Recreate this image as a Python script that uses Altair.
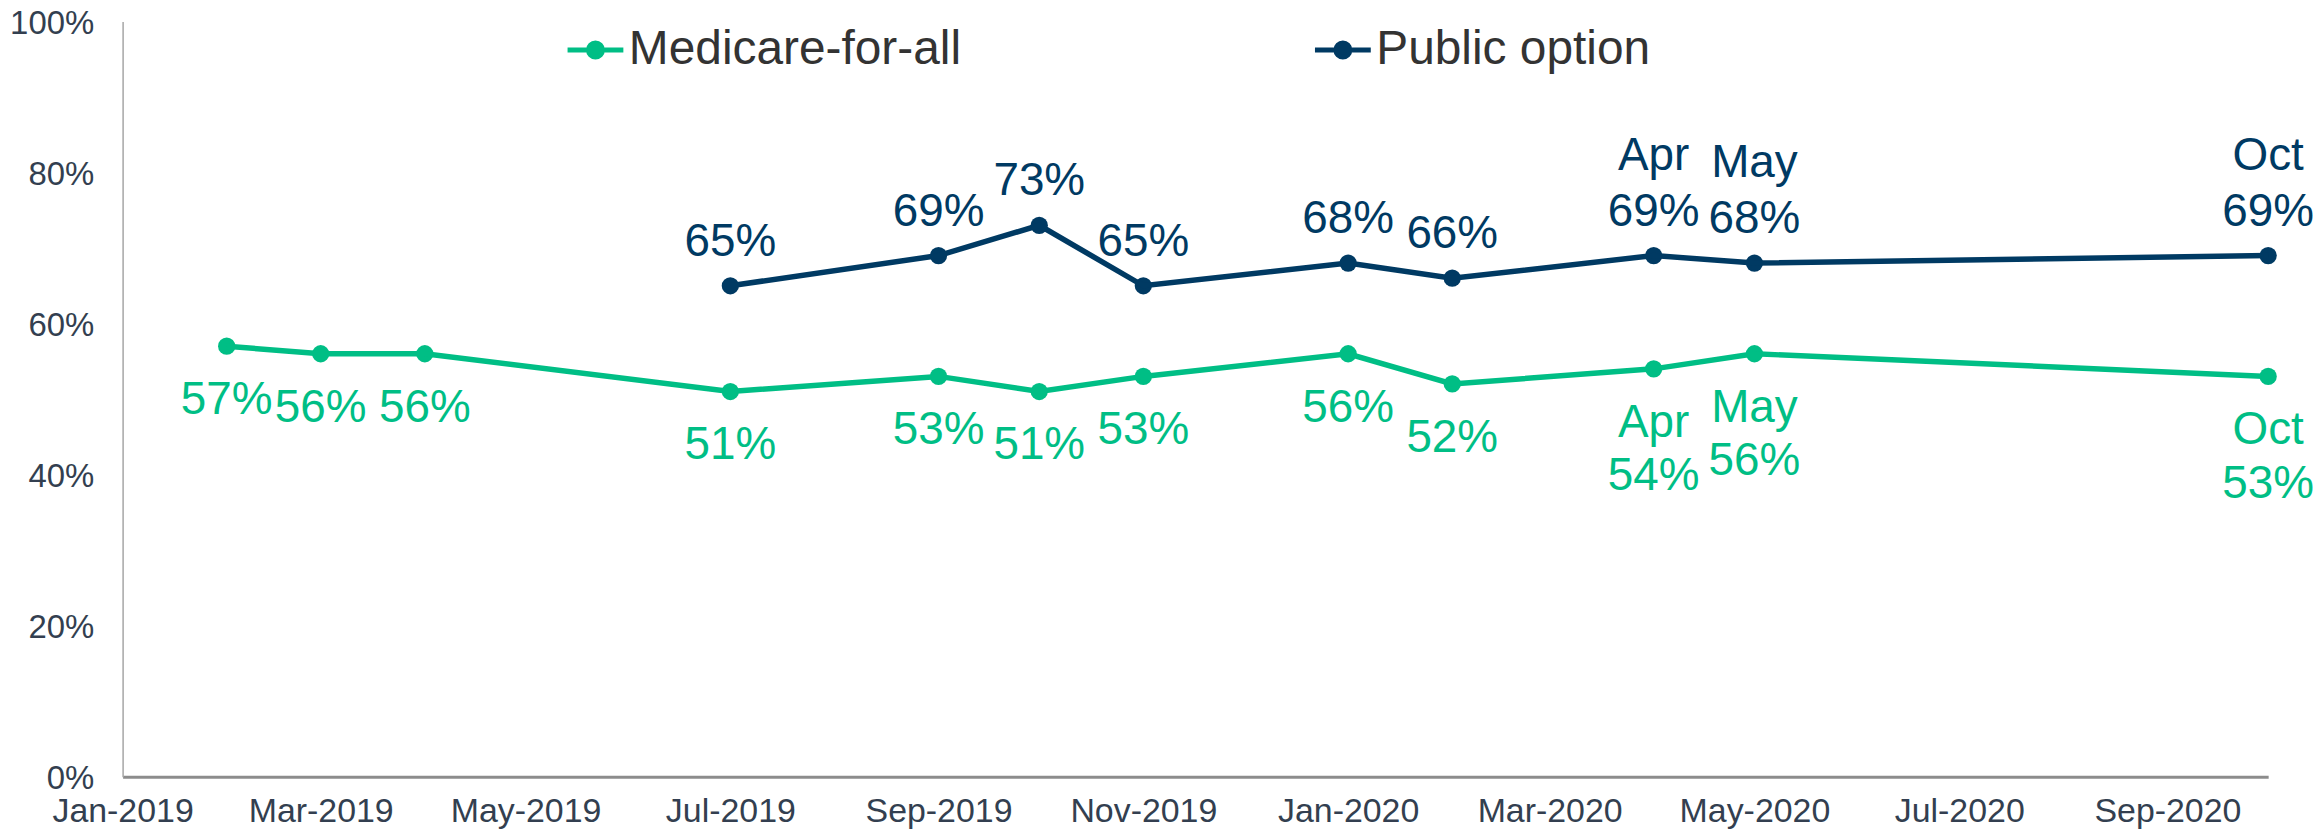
import altair as alt
import pandas as pd

# ---- data ----
series_names = ["Medicare-for-all", "Public option"]
series_colors = ["#00BE85", "#003A63"]

mfa_dates = ["2019-02-01", "2019-03-01", "2019-04-01", "2019-07-01", "2019-09-01",
             "2019-10-01", "2019-11-01", "2020-01-01", "2020-02-01", "2020-04-01",
             "2020-05-01", "2020-10-01"]
mfa_values = [57, 56, 56, 51, 53, 51, 53, 56, 52, 54, 56, 53]
mfa_month_tags = ["", "", "", "", "", "", "", "", "", "Apr", "May", "Oct"]

po_dates = ["2019-07-01", "2019-09-01", "2019-10-01", "2019-11-01", "2020-01-01",
            "2020-02-01", "2020-04-01", "2020-05-01", "2020-10-01"]
po_values = [65, 69, 73, 65, 68, 66, 69, 68, 69]
po_month_tags = ["", "", "", "", "", "", "Apr", "May", "Oct"]

y_ticks = [0, 0.2, 0.4, 0.6, 0.8, 1.0]
x_tick_months = [(2019, 1), (2019, 3), (2019, 5), (2019, 7), (2019, 9), (2019, 11),
                 (2020, 1), (2020, 3), (2020, 5), (2020, 7), (2020, 9)]


rows = []
for d, v, t in zip(mfa_dates, mfa_values, mfa_month_tags):
    rows.append({"series": series_names[0], "date": d, "value": v / 100,
                 "pct": f"{v}%", "tag": t,
                 "label": (t + "\n" if t else "") + f"{v}%"})
for d, v, t in zip(po_dates, po_values, po_month_tags):
    rows.append({"series": series_names[1], "date": d, "value": v / 100,
                 "pct": f"{v}%", "tag": t,
                 "label": (t + "\n" if t else "") + f"{v}%"})
df = pd.DataFrame(rows)

FONT = "Liberation Sans"
AXIS_TEXT = "#333F50"

color_scale = alt.Scale(domain=series_names, range=series_colors)

legend = alt.Legend(
    title=None,
    orient="none",
    legendX=444,
    legendY=-2,
    direction="horizontal",
    symbolType="M-1,0H1M0.25,0A0.25,0.25 0 1,1 -0.25,0A0.25,0.25 0 1,1 0.25,0Z",
    symbolSize=3136,
    symbolStrokeWidth=5,
    symbolOpacity=1,
    labelFontSize=48,
    labelFont=FONT,
    labelColor="#333333",
    labelOffset=3,
    labelLimit=1000,
    columnPadding=344,
    padding=0,
)

x_enc = alt.X(
    "date:T",
    scale=alt.Scale(type="utc",
                    domain=[alt.DateTime(year=2019, month=1, date=1, utc=True),
                            alt.DateTime(year=2020, month=10, date=1, utc=True)]),
    axis=alt.Axis(
        values=[alt.DateTime(year=y, month=m, date=1, utc=True) for y, m in x_tick_months],
        labelExpr="utcFormat(datum.value, '%b-%Y')",
        title=None, grid=False, ticks=False,
        labelFontSize=34, labelFont=FONT, labelColor=AXIS_TEXT, labelPadding=18,
        labelFlush=False, labelOverlap=False,
        domainColor="#8C8C8C", domainWidth=3,
    ),
)
y_enc = alt.Y(
    "value:Q",
    scale=alt.Scale(domain=[0, 1], nice=False),
    axis=alt.Axis(
        values=y_ticks, format=".0%", title=None, grid=False, ticks=False,
        labelFontSize=33, labelFont=FONT, labelColor=AXIS_TEXT, labelPadding=29,
        labelOffset=2, labelFlush=False, domainColor="#A6A6A6", domainWidth=1.5,
    ),
)

base = alt.Chart(df).encode(x=x_enc, y=y_enc)

points = base.mark_point(filled=True, size=300, opacity=1).encode(
    color=alt.Color("series:N", scale=color_scale, legend=legend)
)
lines = base.mark_line(strokeWidth=5.5).encode(
    color=alt.Color("series:N", scale=color_scale, legend=legend)
)

mfa_text = base.transform_filter(alt.datum.series == series_names[0]).mark_text(
    baseline="top", align="center", dy=32, fontSize=46, font=FONT,
    lineBreak="\n", lineHeight=54, color=series_colors[0]
).encode(text="label:N")

po_base = base.transform_filter(alt.datum.series == series_names[1])
po_text = po_base.mark_text(
    baseline="bottom", align="center", dy=-20, fontSize=46, font=FONT,
    color=series_colors[1]
).encode(text="pct:N")
po_tag = po_base.transform_filter(alt.datum.tag != "").mark_text(
    baseline="bottom", align="center", dy=-76, fontSize=46, font=FONT,
    color=series_colors[1]
).encode(text="tag:N")

chart = alt.layer(points, lines, mfa_text, po_text, po_tag).properties(
    width=2153,
    height=758,
    autosize=alt.AutoSizeParams(type="none"),
    padding={"left": 115, "top": 12, "right": 47, "bottom": 53},
).configure(background="white").configure_view(stroke=None)

chart.save("out.html", embed_options={"renderer": "svg", "actions": False})
